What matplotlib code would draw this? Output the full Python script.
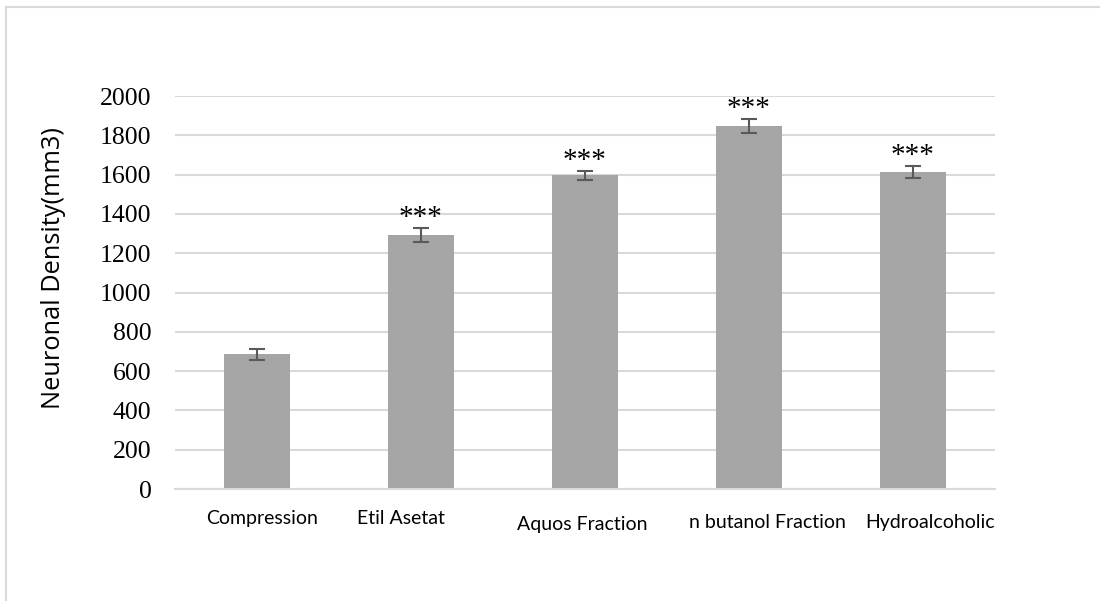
import matplotlib
matplotlib.use("Agg")
import matplotlib.pyplot as plt
import matplotlib.transforms as mtransforms
from matplotlib.patches import Rectangle

categories = ["Compression", "Etil Asetat", "Aquos Fraction", "n butanol Fraction", "Hydroalcoholic"]
values = [687, 1291, 1596, 1846, 1615]
errors = [28, 35, 24, 35, 30]
signif = ["", "***", "***", "***", "***"]
y_ticks = [0, 200, 400, 600, 800, 1000, 1200, 1400, 1600, 1800, 2000]
y_label = "Neuronal Density(mm3)"

# layout-only nudges of the category labels (pixels)
label_dx = [5, -20, -3, 18, 17]
label_dy = [0, 0, -6, -4, -4]

fig = plt.figure(figsize=(11, 6.01), dpi=100)
fig.patches.append(Rectangle((6/1100, -0.2), 1.2, 0.2 + (601-7)/601, transform=fig.transFigure,
                             fill=False, edgecolor="#d9d9d9", linewidth=1.5))
ax = fig.add_axes([175/1100, (601-489)/601, 820/1100, 393/601])

x = list(range(len(categories)))
ax.bar(x, values, width=0.40, color="#a5a5a5", zorder=2)
ax.errorbar(x, values, yerr=errors, fmt="none", ecolor="#595959", elinewidth=1.5,
            capsize=6, capthick=1.5, zorder=3)

for xi, v, e, s in zip(x, values, errors, signif):
    if s:
        ax.annotate(s, (xi, v + e), xytext=(0, 10), textcoords="offset pixels",
                    ha="center", va="center", fontsize=21, family="Liberation Serif", zorder=4)

ax.set_xlim(-0.5, 4.5)
ax.set_ylim(0, 2000)
ax.set_yticks(y_ticks)
ax.set_yticklabels([str(t) for t in y_ticks], family="Liberation Serif", fontsize=18.5)
ax.yaxis.grid(True, color="#d9d9d9", linewidth=1.5, zorder=0)
ax.set_axisbelow(True)
for sp in ["top", "right", "left"]:
    ax.spines[sp].set_visible(False)
ax.spines["bottom"].set_color("#d9d9d9")
ax.spines["bottom"].set_linewidth(1.5)
ax.tick_params(axis="y", length=0, pad=17)
ax.tick_params(axis="x", length=0, pad=15)

ax.set_xticks(x)
ax.set_xticklabels(categories, family="Lato", fontsize=14)
for lab, dx, dy in zip(ax.get_xticklabels(), label_dx, label_dy):
    lab.set_transform(lab.get_transform() + mtransforms.ScaledTranslation(dx/100, dy/100, fig.dpi_scale_trans))

ax.set_ylabel(y_label, family="Open Sans", fontsize=18.3, labelpad=0)
ax.yaxis.set_label_coords(-(175-53)/820, (489-268)/393)
ax.yaxis.label.set_va("center")

fig.savefig("out.png", dpi=100)
